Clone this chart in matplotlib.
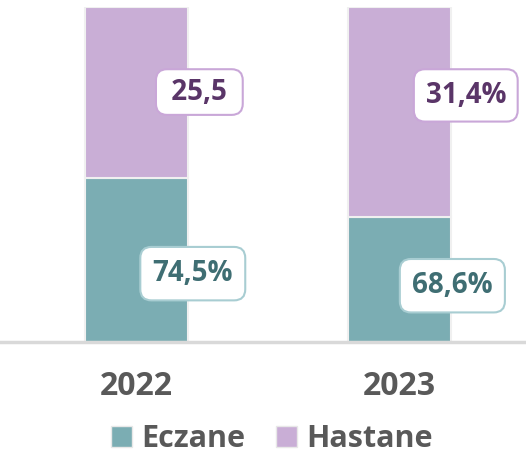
import matplotlib.pyplot as plt
from matplotlib.patches import Patch

years = ['2022', '2023']
eczane = [74.5, 68.6]
hastane = [25.5, 31.4]
eczane_labels = ['74,5%', '68,6%']
hastane_labels = [' 25,5 ', '31,4%']

teal = '#7BADB3'
purple = '#C9AED6'

plt.rcParams['font.family'] = ['Open Sans', 'DejaVu Sans']

fig = plt.figure(figsize=(5.26, 4.54), dpi=100)
ax = fig.add_axes([0, 0.2467, 1, 0.738])

x = range(len(years))
ax.bar(x, eczane, width=0.39, color=teal, edgecolor='#F0F0F0', linewidth=1.5)
ax.bar(x, hastane, bottom=eczane, width=0.39, color=purple, edgecolor='#F0F0F0', linewidth=1.5)

ax.set_ylim(50, 100)
ax.set_xlim(-0.52, 1.48)
ax.axhline(50, color='#D9D9D9', lw=2.5, clip_on=False)

for side in ax.spines.values():
    side.set_visible(False)
ax.set_yticks([])
ax.set_xticks(list(x))
ax.set_xticklabels(years, fontsize=23, fontweight='bold', color='#595959')
ax.tick_params(axis='x', length=0, pad=20)

# labels sit on the right edge of the bars
eczane_pos = [(0.213, 60.2), (0.2, 58.4)]
hastane_pos = [(0.238, 87.3), (0.251, 86.8)]
hastane_pad = [0.3, 0.42]
for i in x:
    ax.annotate(eczane_labels[i], (i + eczane_pos[i][0], eczane_pos[i][1]),
                ha='center', va='center', fontsize=20, fontweight='bold', color='#3F6E73',
                bbox=dict(boxstyle='round,pad=0.44,rounding_size=0.4', fc='white', ec='#A8CDD2', lw=1.5))
    ax.annotate(hastane_labels[i], (i + hastane_pos[i][0], hastane_pos[i][1]),
                ha='center', va='center', fontsize=20, fontweight='bold', color='#5A3568',
                bbox=dict(boxstyle='round,pad=%s,rounding_size=0.4' % hastane_pad[i],
                          fc='white', ec='#C9A7D8', lw=1.5))

handles = [Patch(facecolor=teal, edgecolor='#E8E8E8', label='Eczane'),
           Patch(facecolor=purple, edgecolor='#E8E8E8', label='Hastane')]
fig.legend(handles=handles, loc='center', bbox_to_anchor=(0.517, 0.033), ncol=2, frameon=False,
           prop={'size': 22, 'weight': 'bold'}, labelcolor='#595959',
           handlelength=0.7, handleheight=0.7, handletextpad=0.3, columnspacing=1.0)

fig.savefig('out.png', dpi=100)
